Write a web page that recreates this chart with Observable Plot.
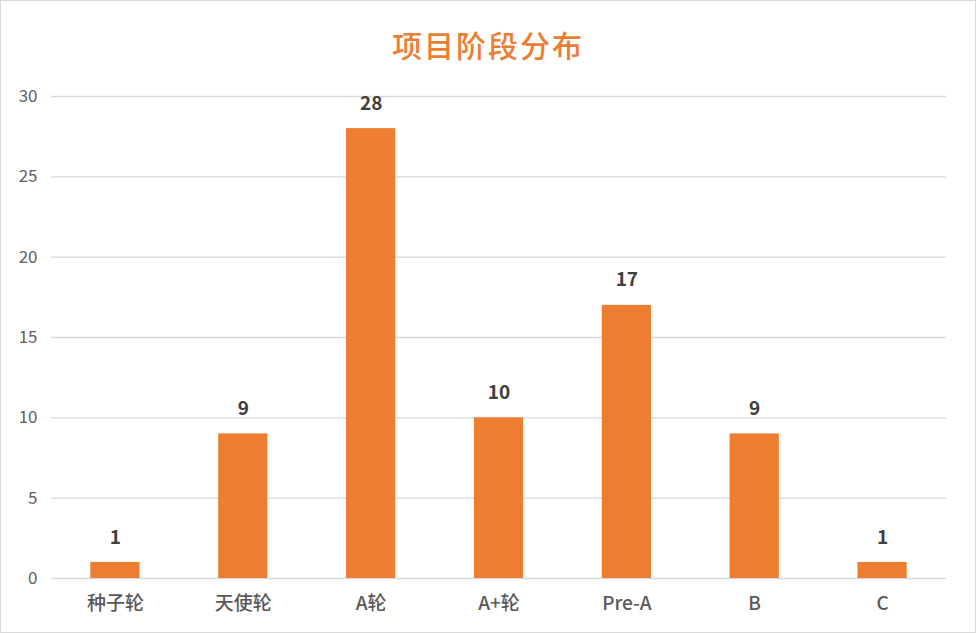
<!DOCTYPE html>
<html>
<head>
<meta charset="utf-8">
<script src="https://cdn.jsdelivr.net/npm/d3@7"></script>
<script src="https://cdn.jsdelivr.net/npm/@observablehq/plot@0.6"></script>
<style>
  html, body { margin: 0; padding: 0; background: #fff; }
  #wrap {
    position: relative; width: 976px; height: 633px; box-sizing: border-box;
    border: 1px solid #d9d9d9; padding-top: 79px; background: #fff;
    font-family: "Noto Sans CJK SC", "Noto Sans", sans-serif;
  }
  #title {
    position: absolute; left: 0; right: 0; top: 23px; height: 40px; line-height: 40px;
    text-align: center; color: #ED7D31; font-size: 30px; font-weight: 500; letter-spacing: 2px;
  }
  svg { display: block; }
</style>
</head>
<body>
<div id="wrap"><div id="title">项目阶段分布</div><div id="chart"></div></div>
<script>
const categories = ["种子轮", "天使轮", "A轮", "A+轮", "Pre-A", "B", "C"];
const counts = [1, 9, 28, 10, 17, 9, 1];
const yTicks = [0, 5, 10, 15, 20, 25, 30];

const data = categories.map((c, i) => ({ stage: c, count: counts[i] }));

const chart = Plot.plot({
  width: 974,
  height: 552,
  marginTop: 16,
  marginBottom: 54,
  marginLeft: 50,
  marginRight: 29,
  style: { fontFamily: '"Noto Sans CJK SC", "Noto Sans", sans-serif', background: "#fff" },
  x: { domain: categories, paddingInner: 0.615, paddingOuter: 0.3075, round: false, label: null },
  y: { domain: [0, 30], ticks: yTicks, label: null },
  marks: [
    Plot.gridY(yTicks, { stroke: "#d9d9d9", strokeOpacity: 1, strokeWidth: 1.3 }),
    Plot.axisY(yTicks, { tickSize: 0, tickPadding: 14, fontSize: 17, fill: "#606060", label: null }),
    Plot.axisX({ tickSize: 0, tickPadding: 18, fontSize: 19, fontWeight: 500, fill: "#595959", label: null }),
    Plot.barY(data, { x: "stage", y: "count", fill: "#ED7D31" }),
    Plot.text(data, { x: "stage", y: "count", text: d => String(d.count), dy: -25,
      fontSize: 19, fontWeight: "bold", fill: "#404040", lineAnchor: "middle" })
  ]
});
document.getElementById("chart").appendChild(chart);
</script>
</body>
</html>
